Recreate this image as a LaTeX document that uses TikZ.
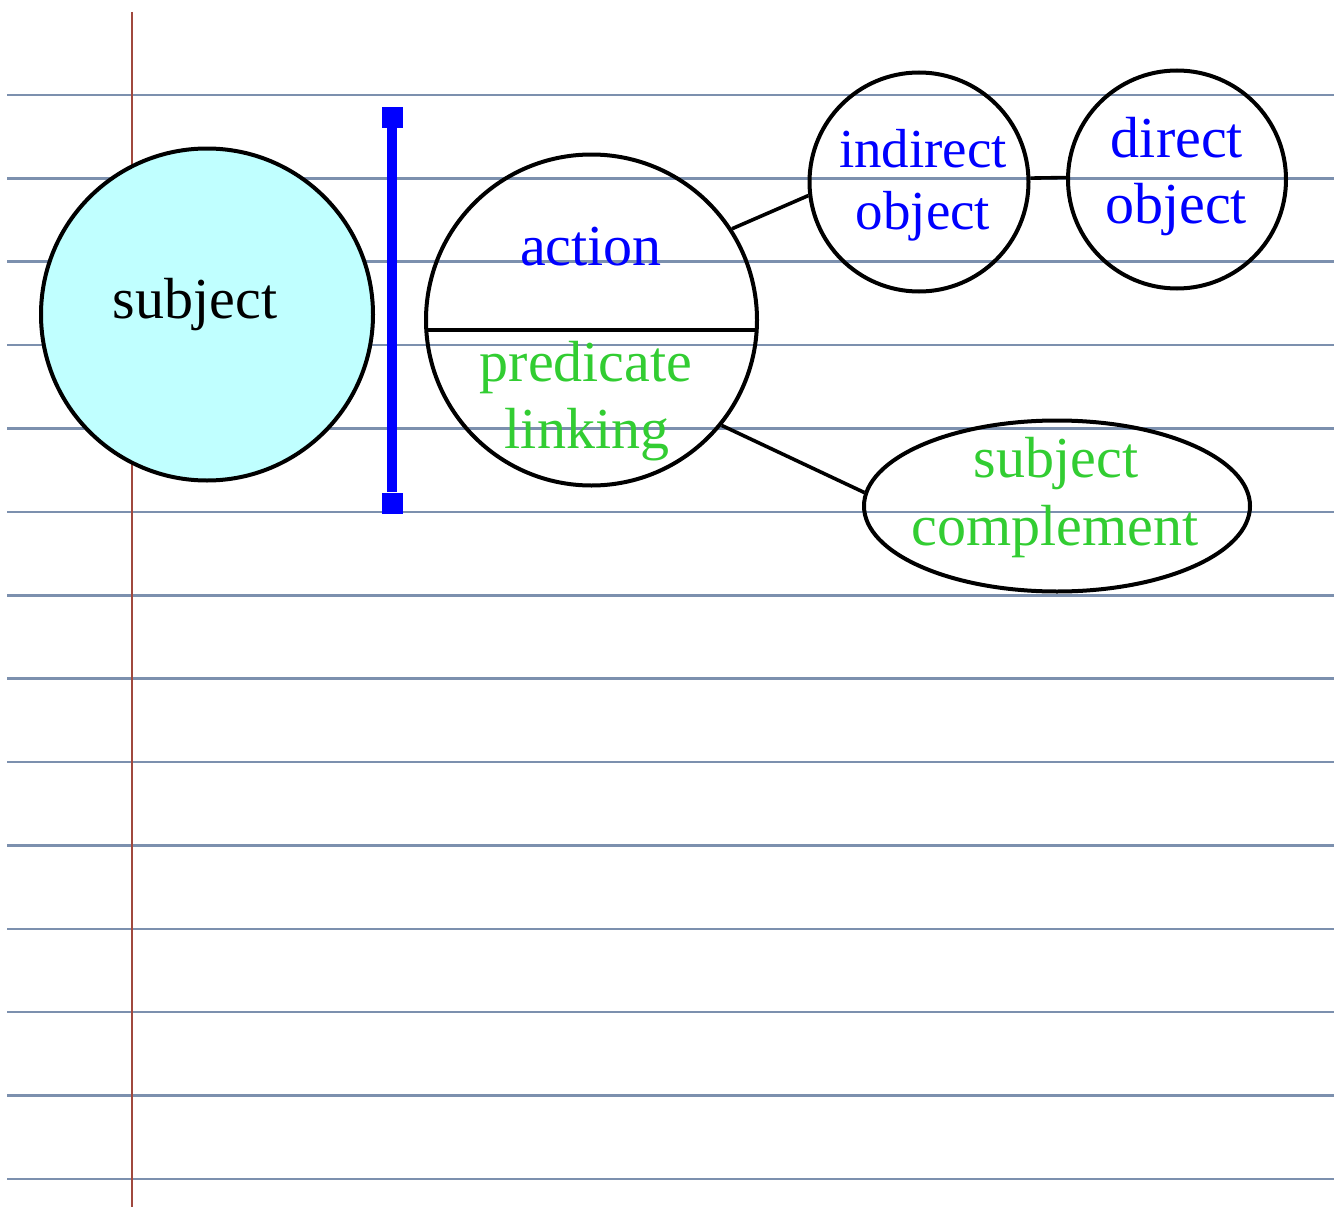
\documentclass[tikz,border=0pt]{standalone}
\usepackage{fontspec}
\setmainfont{Liberation Serif}
\usetikzlibrary{shapes.geometric}
\definecolor{rulecol}{RGB}{124,144,174}
\definecolor{margincol}{RGB}{160,72,62}
\definecolor{subjfill}{RGB}{192,255,255}
\definecolor{verbblue}{RGB}{0,0,255}
\definecolor{linkgreen}{RGB}{50,205,50}
\begin{document}
\begin{tikzpicture}[x=1pt,y=-1pt,
  part/.style={circle,draw=black,line width=4pt,inner sep=0pt,minimum size=#1},
  word/.style={anchor=base,inner sep=0pt,font=\fontsize{58}{66}\selectfont},
  smallword/.style={anchor=base,inner sep=0pt,font=\fontsize{55}{66}\selectfont},
  link/.style={line width=3.6pt},
  endcap/.style={fill=verbblue,minimum size=21pt,inner sep=0pt}]
\useasboundingbox (0,0) rectangle (1334,1207);
\fill[white] (0,0) rectangle (1334,1207);
% ruled notebook paper
\foreach \i in {0,...,13}
  \draw[rulecol,line width=2.6pt] (7,{95+83.38*\i}) -- (1334,{95+83.38*\i});
\draw[margincol,line width=2.4pt] (132,12) -- (132,1207);
% subject
\node[part=332,fill=subjfill] (subj) at (207,314.5) {};
\node[word] (subjtxt) at (195,318) {subject};
% divider bar between subject and predicate
\node[endcap] (bartop) at (392,117) {};
\node[endcap] (barbot) at (392,503) {};
\draw[verbblue,line width=9.5pt] (bartop) -- (barbot);
% predicate circle, split into action / linking halves
\node[part=331] (pred) at (591.5,320) {};
\draw[line width=4.5pt] ([shift={(-165.2,10)}]pred.center) -- ([shift={(165.2,10)}]pred.center);
\node[word,text=verbblue] (acttxt) at (591,265) {action};
\node[word,text=linkgreen] (predtxt) at (586,381.5) {predicate};
\node[word,text=linkgreen] (linktxt) at (587,448) {linking};
% objects
\node[part=219] (ind) at (919,182) {};
\node[smallword,text=verbblue] (indtxt1) at (923,167) {indirect};
\node[smallword,text=verbblue] (indtxt2) at (923,229) {object};
\node[part=218] (dir) at (1177,179.5) {};
\node[word,text=verbblue] (dirtxt1) at (1177,157) {direct};
\node[word,text=verbblue] (dirtxt2) at (1176,223) {object};
% subject complement
\node[ellipse,draw=black,line width=4pt,minimum width=386pt,minimum height=171pt,inner sep=0pt] (comp) at (1057,506) {};
\node[word,text=linkgreen] (comptxt1) at (1056,477) {subject};
\node[word,text=linkgreen] (comptxt2) at (1055,545) {complement};
% connectors
\draw[link] (pred.33.6) -- (ind.187);
\draw[link] (ind.2) -- (dir.179);
\draw[link] (pred.-39) -- (comp.176);
\end{tikzpicture}
\end{document}
